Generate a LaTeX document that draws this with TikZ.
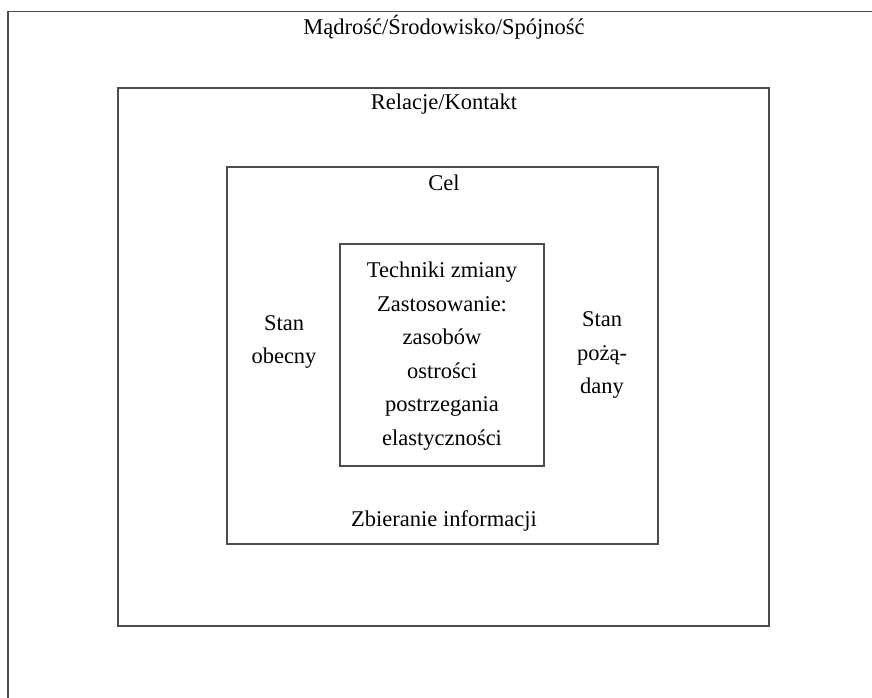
\documentclass[tikz,border=0pt]{standalone}
\usepackage{fontspec}
\setmainfont{LiberationSerif-Regular.ttf}
\begin{document}
\begin{tikzpicture}[x=1pt,y=-1pt,
  frame/.style={draw=black!70, line width=1.5pt, inner sep=0pt},
  label/.style={font=\fontsize{22.5}{33.5}\selectfont, text=black, align=center, inner sep=0pt}]
  \useasboundingbox (0,0) rectangle (872,698);
  \clip (0,0) rectangle (872,698);
  % nested frames
  \node[frame, minimum width=900pt, minimum height=720pt, anchor=north west] (outer) at (7,11) {};
  \node[frame, minimum width=651pt, minimum height=538pt] (rel) at (443.5,357) {};
  \node[frame, minimum width=431pt, minimum height=377pt] (cel) at (442.5,355.5) {};
  \node[frame, minimum width=204pt, minimum height=222pt] (tech) at (442,355) {};
  % labels
  \node[label] (t1) at (444,27) {Mądrość/Środowisko/Spójność};
  \node[label] (t2) at (444,104) {Relacje/Kontakt};
  \node[label] (t3) at (444,183) {Cel};
  \node[label] (t4) at (444,521) {Zbieranie informacji};
  \node[label] (t5) at (442,356) {Techniki zmiany\\Zastosowanie:\\zasobów\\ostrości\\postrzegania\\elastyczności};
  \node[label] (t6) at (284,342) {Stan\\obecny};
  \node[label] (t7) at (602,355) {Stan\\pożą-\\dany};
\end{tikzpicture}
\end{document}
